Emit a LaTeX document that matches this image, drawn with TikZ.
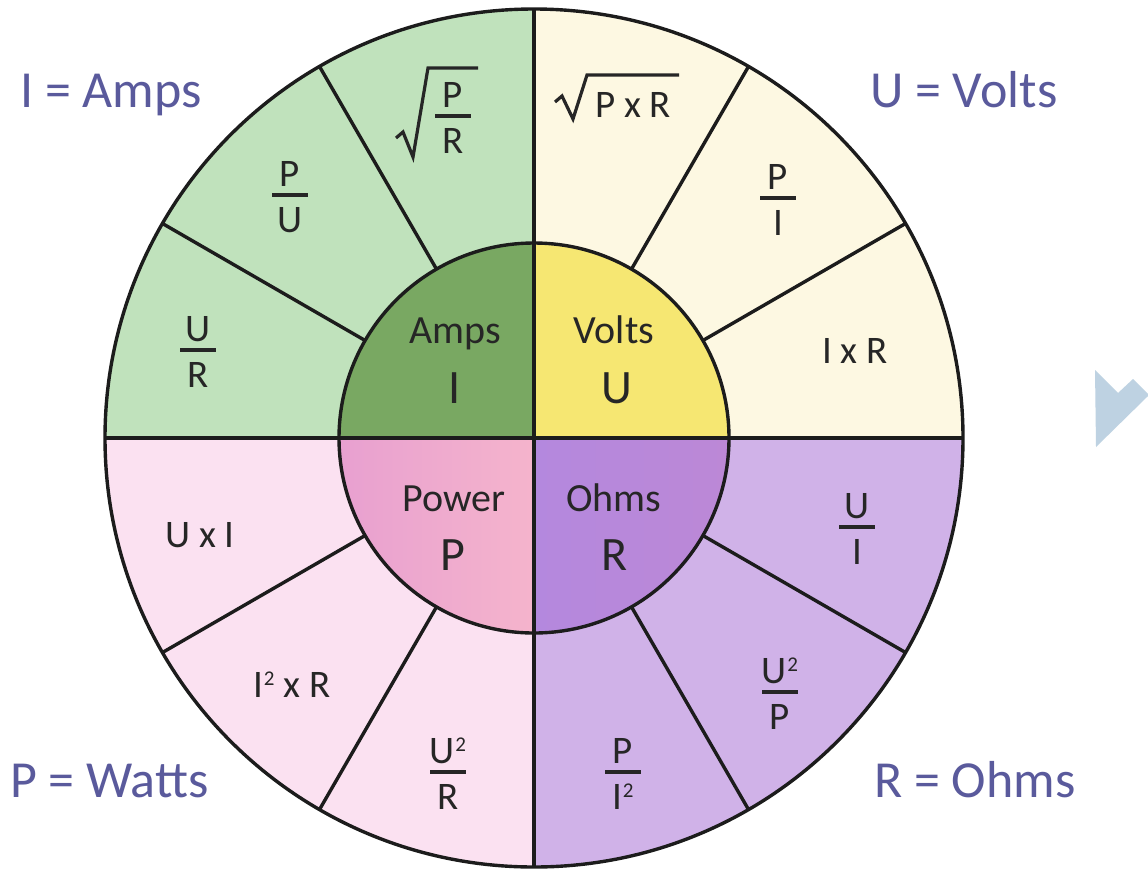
\documentclass[tikz,border=0pt]{standalone}
\usepackage{fontspec}
\setmainfont{Carlito}
\usetikzlibrary{calc}

\definecolor{edge}{HTML}{1C1C1C}
\definecolor{ink}{HTML}{262626}
\definecolor{keyink}{HTML}{5A5A9C}
\definecolor{greenout}{HTML}{C0E2BC}
\definecolor{greenin}{HTML}{79A862}
\definecolor{creamout}{HTML}{FDF8E2}
\definecolor{yellowin}{HTML}{F6E772}
\definecolor{pinkout}{HTML}{FBE1F1}
\definecolor{pinkinA}{HTML}{E8A0D0}
\definecolor{pinkinB}{HTML}{F5B4CC}
\definecolor{lilacout}{HTML}{D0B2E8}
\definecolor{purpleinA}{HTML}{B488DE}
\definecolor{purpleinB}{HTML}{BC88D6}
\definecolor{chevron}{HTML}{BED2E2}

% superscript two
\newcommand\sqr{\kern0.5pt\raisebox{12pt}{\fontsize{21}{21}\selectfont 2}}

% fraction: name, x, y of bar centre, numerator, denominator
\newcommand\fracat[5]{%
  \node[formula, anchor=base] (#1-num) at (#2,#3-9) {#4};
  \node[formula, anchor=base] (#1-den) at (#2,#3+37) {#5};
  \draw[fbar] (#2-18,#3) -- (#2+18,#3);
}

\begin{document}
\begin{tikzpicture}[x=1pt,y=-1pt,
  rule/.style={line width=3.4pt, draw=edge},
  fbar/.style={line width=3.2pt, draw=ink},
  radical/.style={line width=3.2pt, draw=ink, line join=miter},
  formula/.style={inner sep=0pt, text=ink, font=\fontsize{39}{39}\selectfont},
  core/.style={inner sep=0pt, text=ink, font=\fontsize{40}{40}\selectfont},
  corebig/.style={inner sep=0pt, text=ink, font=\fontsize{48}{48}\selectfont},
  keytext/.style={inner sep=0pt, text=keyink, font=\fontsize{52}{52}\selectfont},
]
\useasboundingbox[fill=white] (0,0) rectangle (1148,868);
\coordinate (C) at (534,438);

% outer ring quadrants
\fill[greenout] (C) -- ++(90:429pt) arc[start angle=90, end angle=180, radius=429pt] -- cycle;
\fill[creamout] (C) -- ++(0:429pt) arc[start angle=0, end angle=90, radius=429pt] -- cycle;
\fill[pinkout] (C) -- ++(180:429pt) arc[start angle=180, end angle=270, radius=429pt] -- cycle;
\fill[lilacout] (C) -- ++(270:429pt) arc[start angle=270, end angle=360, radius=429pt] -- cycle;

% inner disc quadrants
\fill[greenin] (C) -- ++(90:195pt) arc[start angle=90, end angle=180, radius=195pt] -- cycle;
\fill[yellowin] (C) -- ++(0:195pt) arc[start angle=0, end angle=90, radius=195pt] -- cycle;
\shade[left color=pinkinA, right color=pinkinB] (C) -- ++(180:195pt) arc[start angle=180, end angle=270, radius=195pt] -- cycle;
\shade[left color=purpleinA, right color=purpleinB] (C) -- ++(270:195pt) arc[start angle=270, end angle=360, radius=195pt] -- cycle;

% spokes between the inner disc and the rim
\foreach \a in {30,60,120,150,210,240,300,330}
  \draw[rule] ($(C)+(\a:195pt)$) -- ($(C)+(\a:429pt)$);
% the two diameters
\draw[rule] ($(C)+(180:429pt)$) -- ($(C)+(0:429pt)$);
\draw[rule] ($(C)+(90:429pt)$) -- ($(C)+(270:429pt)$);
% circles
\draw[rule] (C) circle[radius=195pt];
\draw[rule] (C) circle[radius=429pt];

% centre labels
\node[core, anchor=base] (amps) at (455,343) {Amps};
\node[corebig, anchor=base] (amps-sym) at (455,403) {I};
\node[core, anchor=base] (volts) at (614,343) {Volts};
\node[corebig, anchor=base] (volts-sym) at (617,403) {U};
\node[core, anchor=base] (power) at (454,511) {Power};
\node[corebig, anchor=base] (power-sym) at (453,570) {P};
\node[core, anchor=base] (ohms) at (614,511) {Ohms};
\node[corebig, anchor=base] (ohms-sym) at (615,570) {R};

% current I
\fracat{iur}{198}{350}{U}{R}
\fracat{ipu}{290}{195}{P}{U}
\fracat{ipr}{453}{116}{P}{R}
\draw[radical] (396,138) -- (403,132) -- (413,157) -- (428,68) -- (478,68);

% voltage U
\node[formula, anchor=base] (upr) at (633,117) {P x R};
\draw[radical] (555,102) -- (562,96) -- (573,119) -- (587,75) -- (679,75);
\fracat{upi}{778}{198}{P}{I}
\node[formula, anchor=base] (uir) at (855,363) {I x R};

% resistance R
\fracat{rui}{857}{527}{U}{I}
\fracat{rup}{780}{692}{U\sqr}{P}
\fracat{rpi}{623}{772}{P}{I\sqr}

% power P
\fracat{pur}{448}{772}{U\sqr}{R}
\node[formula, anchor=base] (pir) at (292,697) {I\sqr{} x R};
\node[formula, anchor=base] (pui) at (200,547) {U x I};

% key
\node[keytext, anchor=base west] (key-i) at (20,107) {I = Amps};
\node[keytext, anchor=base west] (key-u) at (870,107) {U = Volts};
\node[keytext, anchor=base west] (key-p) at (10,797) {P = Watts};
\node[keytext, anchor=base west] (key-r) at (874,797) {R = Ohms};

% chevron at the right edge
\fill[chevron] (1095,370) -- (1118,393) -- (1133,379) -- (1148,394) -- (1148,396) -- (1096,447) -- cycle;
\end{tikzpicture}
\end{document}
